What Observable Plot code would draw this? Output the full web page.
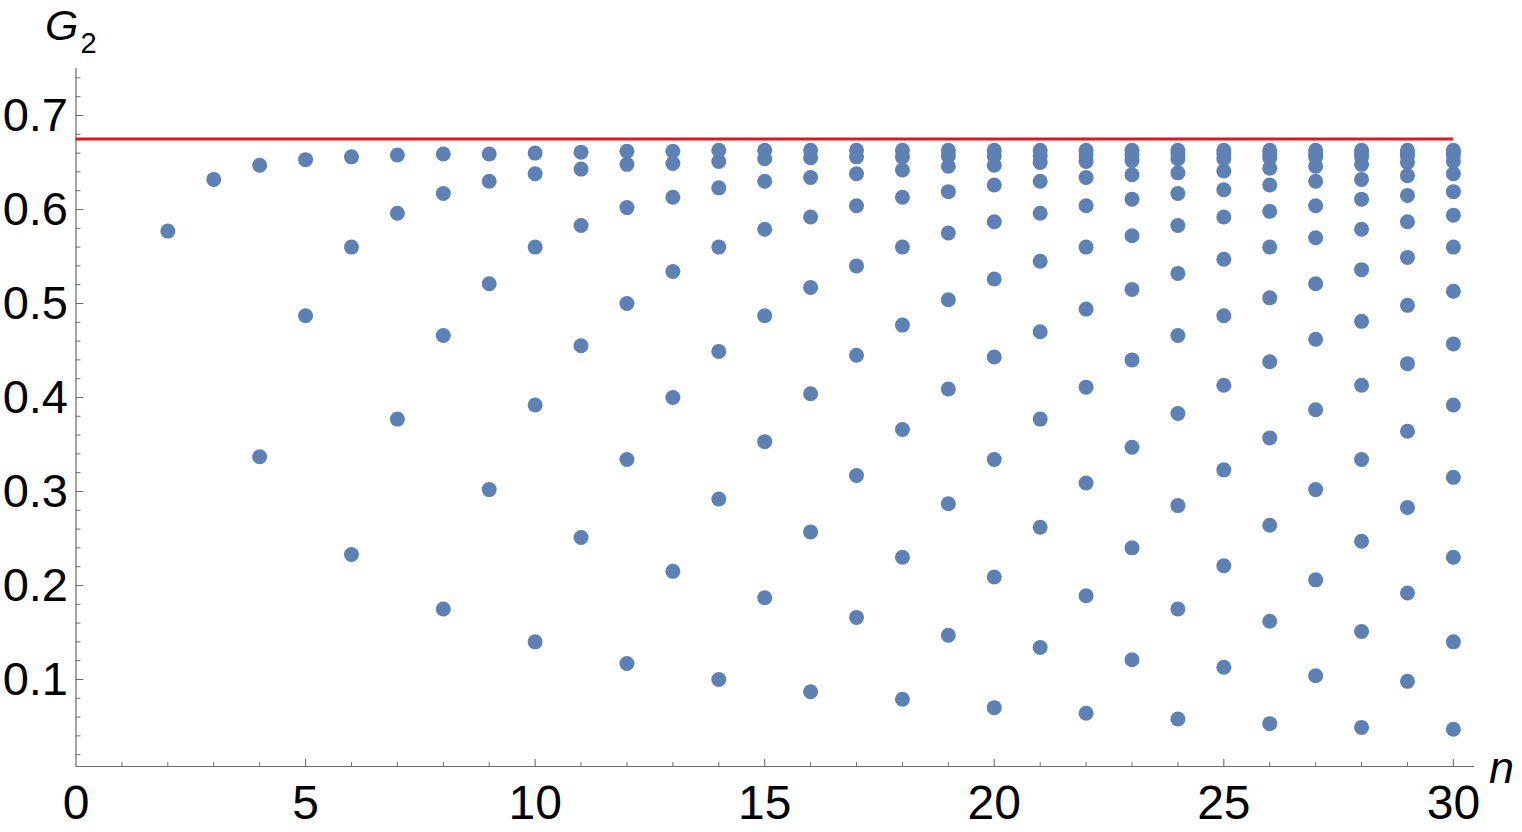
<!DOCTYPE html>
<html>
<head>
<meta charset="utf-8">
<script src="https://cdn.jsdelivr.net/npm/d3@7"></script>
<script src="https://cdn.jsdelivr.net/npm/@observablehq/plot@0.6"></script>
<style>
  html, body { margin: 0; padding: 0; background: #ffffff; }
  #chart { width: 1522px; height: 832px; }
</style>
</head>
<body>
<div id="chart"></div>
<script>
// ---- data: G2 values for each n ----
const n2  = [0.577];
const n3  = [0.632];
const n4  = [0.647, 0.337];
const n5  = [0.653, 0.487];
const n6  = [0.656, 0.560, 0.233];
const n7  = [0.658, 0.596, 0.377];
const n8  = [0.659, 0.617, 0.466, 0.175];
const n9  = [0.659, 0.630, 0.521, 0.302];
const n10 = [0.660, 0.638, 0.560, 0.392, 0.140];
const n11 = [0.661, 0.643, 0.583, 0.455, 0.251];
const n12 = [0.662, 0.648, 0.602, 0.500, 0.334, 0.117];
const n13 = [0.662, 0.649, 0.613, 0.534, 0.400, 0.215];
const n14 = [0.663, 0.651, 0.623, 0.560, 0.449, 0.292, 0.100];
const n15 = [0.663, 0.654, 0.630, 0.579, 0.487, 0.353, 0.187];
const n16 = [0.663, 0.655, 0.634, 0.592, 0.517, 0.404, 0.257, 0.087];
const n17 = [0.663, 0.656, 0.638, 0.604, 0.540, 0.445, 0.317, 0.166];
const n18 = [0.663, 0.656, 0.642, 0.613, 0.560, 0.477, 0.366, 0.230, 0.079];
const n19 = [0.663, 0.657, 0.646, 0.619, 0.575, 0.504, 0.409, 0.287, 0.147];
const n20 = [0.663, 0.657, 0.647, 0.626, 0.587, 0.526, 0.443, 0.334, 0.209, 0.070];
const n21 = [0.663, 0.657, 0.650, 0.630, 0.596, 0.545, 0.470, 0.377, 0.262, 0.134];
const n22 = [0.663, 0.658, 0.651, 0.634, 0.604, 0.560, 0.494, 0.411, 0.309, 0.189, 0.064];
const n23 = [0.663, 0.658, 0.652, 0.637, 0.611, 0.572, 0.515, 0.440, 0.347, 0.240, 0.121];
const n24 = [0.663, 0.659, 0.654, 0.639, 0.617, 0.583, 0.532, 0.466, 0.383, 0.285, 0.175, 0.058];
const n25 = [0.663, 0.659, 0.654, 0.641, 0.621, 0.592, 0.547, 0.487, 0.413, 0.323, 0.221, 0.113];
const n26 = [0.663, 0.659, 0.655, 0.644, 0.626, 0.598, 0.560, 0.506, 0.438, 0.357, 0.264, 0.162, 0.053];
const n27 = [0.663, 0.659, 0.656, 0.646, 0.630, 0.604, 0.570, 0.521, 0.462, 0.387, 0.302, 0.206, 0.104];
const n28 = [0.663, 0.660, 0.656, 0.648, 0.632, 0.611, 0.579, 0.536, 0.481, 0.413, 0.334, 0.247, 0.151, 0.049];
const n29 = [0.663, 0.660, 0.657, 0.650, 0.636, 0.615, 0.587, 0.549, 0.498, 0.436, 0.364, 0.283, 0.192, 0.098];
const n30 = [0.663, 0.661, 0.658, 0.651, 0.638, 0.619, 0.594, 0.560, 0.513, 0.457, 0.392, 0.315, 0.230, 0.140, 0.047];

const nValues = [2,3,4,5,6,7,8,9,10,11,12,13,14,15,16,17,18,19,20,21,22,23,24,25,26,27,28,29,30];
const seriesByN = [n2,n3,n4,n5,n6,n7,n8,n9,n10,n11,n12,n13,n14,n15,n16,n17,n18,n19,n20,n21,n22,n23,n24,n25,n26,n27,n28,n29,n30];

const limitLevel = [0.675];            // red horizontal line
const xMajorTicks = [0, 5, 10, 15, 20, 25, 30];
const yMajorTicks = [0.1, 0.2, 0.3, 0.4, 0.5, 0.6, 0.7];
const xMinorTicks = d3.range(1, 31).filter(d => d % 5 !== 0);
const yMinorTicks = d3.range(1, 38).map(i => +(i * 0.02).toFixed(2)).filter(d => Math.abs(d * 10 - Math.round(d * 10)) > 1e-6);

// table for the library
const points = [];
nValues.forEach((n, i) => seriesByN[i].forEach(v => points.push({n, g2: v})));

const xDomain = [0, 30.46];
const yDomain = [0.0074, 0.75];
const axisColor = "#6b6b6b";

const tickShape = { draw(context, l) { context.moveTo(0, 0); context.lineTo(0, -l); } };

const chart = Plot.plot({
  width: 1522,
  height: 832,
  marginLeft: 75.5,
  marginRight: 48,
  marginTop: 68,
  marginBottom: 66,
  style: { fontFamily: "'Liberation Sans', Arial, sans-serif", background: "#ffffff", color: "#000000" },
  x: { domain: xDomain },
  y: { domain: yDomain },
  marks: [
    // axis lines
    Plot.ruleX([xDomain[0]], { stroke: axisColor, strokeWidth: 1.2 }),
    Plot.ruleY([yDomain[0]], { stroke: axisColor, strokeWidth: 1.2 }),
    // inward ticks
    Plot.vector(yMajorTicks, { x: () => xDomain[0], y: d => d, length: 7, rotate: 90, anchor: "start", shape: tickShape, stroke: axisColor, strokeWidth: 1.1 }),
    Plot.vector(yMinorTicks, { x: () => xDomain[0], y: d => d, length: 4, rotate: 90, anchor: "start", shape: tickShape, stroke: axisColor, strokeWidth: 1 }),
    Plot.vector(xMajorTicks.filter(d => d > 0), { x: d => d, y: () => yDomain[0], length: 7, rotate: 0, anchor: "start", shape: tickShape, stroke: axisColor, strokeWidth: 1.1 }),
    Plot.vector(xMinorTicks, { x: d => d, y: () => yDomain[0], length: 4, rotate: 0, anchor: "start", shape: tickShape, stroke: axisColor, strokeWidth: 1 }),
    // tick labels
    Plot.axisY({ ticks: yMajorTicks, tickSize: 0, tickPadding: 8, fontSize: 47, tickFormat: d3.format(".1f"), label: null }),
    Plot.axisX({ ticks: xMajorTicks, tickSize: 0, tickPadding: 18, fontSize: 48, tickFormat: d3.format("d"), label: null }),
    // red limit line
    Plot.ruleY(limitLevel, { x1: 0, x2: 30, stroke: "#e3141c", strokeWidth: 3 }),
    // data points
    Plot.dot(points, { x: "n", y: "g2", r: 7.5, fill: "#5e81b5", stroke: "none" })
  ]
});

// axis titles with subscript / italics
const svg = d3.select(chart);
const g2 = svg.append("text")
  .attr("x", 45).attr("y", 40)
  .attr("text-anchor", "start")
  .attr("font-family", "'Liberation Sans', Arial, sans-serif")
  .attr("fill", "#000");
g2.append("tspan").attr("font-style", "italic").attr("font-size", 43).text("G");
g2.append("tspan").attr("font-size", 29).attr("dx", 2).attr("dy", 13).text("2");

svg.append("text")
  .attr("x", 1489).attr("y", 783)
  .attr("text-anchor", "start")
  .attr("font-family", "'Liberation Sans', Arial, sans-serif")
  .attr("font-style", "italic")
  .attr("font-size", 45)
  .attr("fill", "#000")
  .text("n");

document.getElementById("chart").appendChild(chart);
</script>
</body>
</html>
